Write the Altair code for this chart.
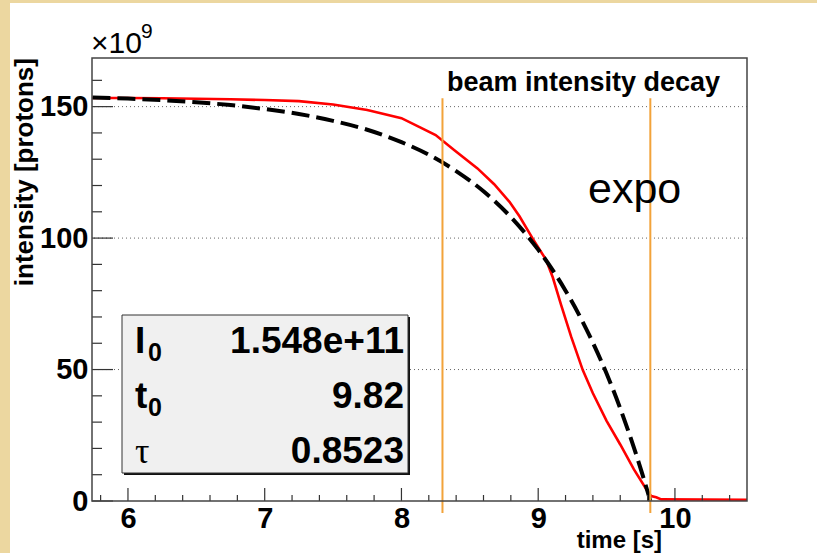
import altair as alt
import pandas as pd

# ---- data ----
# measured beam intensity (red), time [s] / intensity [1e9 protons]
red_t = [5.74, 6.0, 6.25, 6.5, 6.75, 7.0, 7.25, 7.5, 7.75, 8.0, 8.14, 8.25, 8.385, 8.556,
         8.678, 8.79, 8.863, 8.96, 9.058, 9.107, 9.168, 9.241, 9.326, 9.4, 9.5, 9.6,
         9.7, 9.794, 9.826, 9.863, 9.9, 10.527]
red_i = [153.3, 153.3, 153.2, 153.0, 152.8, 152.5, 152.1, 150.8, 148.7, 145.6, 142.0, 139.2,
         133.5, 126.5, 120.5, 113.8, 108.3, 99.8, 91.7, 85.0, 74.5, 62.5, 49.8, 41.0, 30.5,
         21.5, 12.0, 4.2, 1.9, 1.4, 0.6, 0.5]
# fitted "expo" curve (black dashed)
fit_t = [5.74, 6.0, 6.25, 6.5, 6.75, 7.0, 7.25, 7.5, 7.75, 8.0, 8.2, 8.4, 8.6, 8.8, 9.0,
         9.1, 9.2, 9.3, 9.4, 9.5, 9.6, 9.7, 9.76, 9.82]
fit_i = [153.5, 153.05, 152.45, 151.65, 150.6, 149.1, 147.2, 144.6, 141.2, 136.5, 131.7,
         125.5, 117.8, 108.0, 95.6, 88.3, 80.0, 70.7, 60.2, 48.5, 35.2, 20.3, 10.5, 0.0]
# vertical markers (orange)
marker_t = [8.30, 9.82]
marker_lo = [-4.6, -4.6]
marker_hi = [153.2, 153.2]

x_major = [6, 7, 8, 9, 10]
x_minor = [5.8, 6.2, 6.4, 6.6, 6.8, 7.2, 7.4, 7.6, 7.8, 8.2, 8.4, 8.6, 8.8,
           9.2, 9.4, 9.6, 9.8, 10.2, 10.4]
y_major = [0, 50, 100, 150]
y_minor = [10, 20, 30, 40, 60, 70, 80, 90, 110, 120, 130, 140, 160]
grid_y = [50, 100, 150]

stat_names = ["I", "t", "τ"]
stat_subs = ["0", "0", ""]
stat_values = ["1.548e+11", "9.82", "0.8523"]

title_text = "beam intensity decay"
fit_label = "expo"
x_title = "time [s]"
y_title = "intensity [protons]"
exp_base = "×10"
exp_power = "9"

# ---- layout ----
W, H = 655, 443
FONT = "Liberation Sans"

xs = alt.Scale(domain=[5.737, 10.527], nice=False, zero=False)
ys = alt.Scale(domain=[0, 168.5], nice=False, zero=False)
xax = alt.Axis(values=x_major, ticks=False, tickSize=0, domain=False, grid=False,
               labelFont=FONT, labelFontWeight="bold", labelFontSize=29,
               labelColor="black", labelPadding=3, title="", zindex=1)
yax = alt.Axis(values=y_major, ticks=False, tickSize=0, domain=False, grid=False,
               labelFont=FONT, labelFontWeight="bold", labelFontSize=29,
               labelColor="black", labelPadding=4, title="", zindex=1)

one = pd.DataFrame({"a": [0]})

bg = alt.Chart(one).mark_rect(color="white").encode(
    x=alt.value(-82), x2=alt.value(725), y=alt.value(-55), y2=alt.value(495))

grid = alt.Chart(pd.DataFrame({"v": grid_y})).mark_rule(
    color="#666", strokeWidth=1, strokeDash=[1, 3]).encode(
    y=alt.Y("v:Q", scale=ys, axis=yax))

red = alt.Chart(pd.DataFrame({"t": red_t, "i": red_i})).mark_line(
    color="#ff0000", strokeWidth=2.6, interpolate="linear").encode(
    x=alt.X("t:Q", scale=xs, axis=xax), y=alt.Y("i:Q", scale=ys, axis=yax))

fit = alt.Chart(pd.DataFrame({"t": fit_t, "i": fit_i})).mark_line(
    color="black", strokeWidth=4, strokeDash=[18, 7], interpolate="monotone").encode(
    x=alt.X("t:Q", scale=xs, axis=xax), y=alt.Y("i:Q", scale=ys, axis=yax))

markers = alt.Chart(pd.DataFrame({"t": marker_t, "lo": marker_lo, "hi": marker_hi})).mark_rule(
    color="#f2a33a", strokeWidth=2).encode(
    x=alt.X("t:Q", scale=xs, axis=xax), y=alt.Y("lo:Q", scale=ys, axis=yax), y2="hi:Q")

# inward ticks
ytick_major = alt.Chart(pd.DataFrame({"v": y_major})).mark_rule(color="#333", strokeWidth=1.2).encode(
    y=alt.Y("v:Q", scale=ys, axis=yax), x=alt.value(0), x2=alt.value(21))
ytick_minor = alt.Chart(pd.DataFrame({"v": y_minor})).mark_rule(color="#333", strokeWidth=1.2).encode(
    y=alt.Y("v:Q", scale=ys, axis=yax), x=alt.value(0), x2=alt.value(10))
xtick_major = alt.Chart(pd.DataFrame({"v": x_major})).mark_rule(color="#333", strokeWidth=1.2).encode(
    x=alt.X("v:Q", scale=xs, axis=xax), y=alt.value(H), y2=alt.value(H - 13))
xtick_minor = alt.Chart(pd.DataFrame({"v": x_minor})).mark_rule(color="#333", strokeWidth=1.2).encode(
    x=alt.X("v:Q", scale=xs, axis=xax), y=alt.value(H), y2=alt.value(H - 6))

# stats box (with shadow)
shadow = alt.Chart(one).mark_rect(color="#111").encode(
    x=alt.value(32), x2=alt.value(318), y=alt.value(259), y2=alt.value(417))
box = alt.Chart(one).mark_rect(fill="#f0f0f0", stroke="#333", strokeWidth=1).encode(
    x=alt.value(30), x2=alt.value(316), y=alt.value(257), y2=alt.value(415))

texts = []
for k, (nm, sb, val) in enumerate(zip(stat_names, stat_subs, stat_values)):
    base = 295 + 55 * k
    if nm == "τ":
        texts.append(alt.Chart(pd.DataFrame({"s": [nm]})).mark_text(
            font="Liberation Serif", fontSize=36, align="left", baseline="alphabetic",
            color="black").encode(text="s:N", x=alt.value(43), y=alt.value(base)))
    else:
        texts.append(alt.Chart(pd.DataFrame({"s": [nm]})).mark_text(
            font=FONT, fontWeight="bold", fontSize=37, align="left", baseline="alphabetic",
            color="black").encode(text="s:N", x=alt.value(43), y=alt.value(base)))
    if sb:
        texts.append(alt.Chart(pd.DataFrame({"s": [sb]})).mark_text(
            font=FONT, fontWeight="bold", fontSize=25, align="left", baseline="alphabetic",
            color="black").encode(text="s:N", x=alt.value(56), y=alt.value(base + 8)))
    texts.append(alt.Chart(pd.DataFrame({"s": [val]})).mark_text(
        font=FONT, fontWeight="bold", fontSize=37, align="right", baseline="alphabetic",
        color="black").encode(text="s:N", x=alt.value(312), y=alt.value(base)))

def label(txt, x, y, size, weight="normal", align="left", angle=0, font=FONT):
    kw = dict(font=font, fontSize=size, fontWeight=weight, align=align,
              baseline="alphabetic", color="black")
    if angle:
        kw["angle"] = angle
    return alt.Chart(pd.DataFrame({"s": [txt]})).mark_text(**kw).encode(
        text="s:N", x=alt.value(x), y=alt.value(y))

annots = [
    label(title_text, 355, 33, 27, "bold"),
    label(fit_label, 496, 145, 43),
    label(x_title, 570, 490, 24, "bold", align="right"),
    label(y_title, -59, 0, 26, "bold", align="right", angle=270),
    label(exp_base, -1, -5, 30),
    label(exp_power, 49, -20, 21),
]

frame = alt.Chart(one).mark_rect(fillOpacity=0, stroke="#444", strokeWidth=1.5).encode(
    x=alt.value(0), x2=alt.value(W), y=alt.value(0), y2=alt.value(H))

chart = alt.layer(
    bg, grid, red, fit, markers, shadow, box, *texts,
    ytick_major, ytick_minor, xtick_major, xtick_minor, *annots, frame
).properties(
    width=W, height=H,
    padding={"left": 92, "top": 58, "right": 70, "bottom": 52},
    autosize=alt.AutoSizeParams(type="none"),
    background="#ecd7a0",
).configure_view(strokeWidth=0)

chart.save("out.html", embed_options={"renderer": "svg", "actions": False})
